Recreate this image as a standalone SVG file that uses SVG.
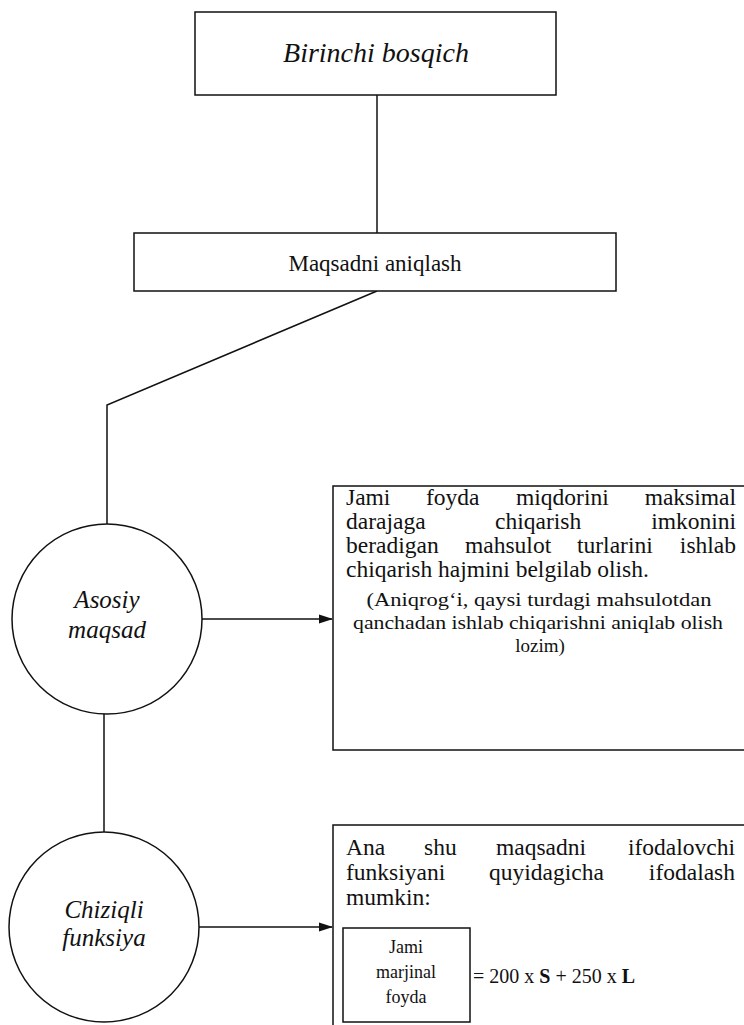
<svg xmlns="http://www.w3.org/2000/svg" width="744" height="1025" viewBox="0 0 744 1025" font-family="'Liberation Serif', 'DejaVu Serif', serif">
<style>
.box{fill:#fff;stroke:#111;stroke-width:1.5}
.ln{fill:none;stroke:#111;stroke-width:1.5}
text{font-family:'Liberation Serif','DejaVu Serif',serif;fill:#111}
.it{font-style:italic}
.mid{text-anchor:middle}
.end{text-anchor:end}
</style>
<defs>
<marker id="ah" markerWidth="14" markerHeight="11" refX="13" refY="5.5" orient="auto" markerUnits="userSpaceOnUse">
<path d="M0,1 L14,5.5 L0,10 Z" fill="#111"/>
</marker>
</defs>
<rect width="744" height="1025" fill="#fff"/>
<g id="connectors">
<line class="ln" x1="377" y1="95" x2="377" y2="233"/>
<polyline class="ln" points="377,291 107,405 107,524"/>
<line class="ln" x1="104" y1="712" x2="104" y2="833"/>
<line class="ln" x1="202" y1="619" x2="332" y2="619" marker-end="url(#ah)"/>
<line class="ln" x1="199" y1="927" x2="332" y2="927" marker-end="url(#ah)"/>
</g>
<g id="birinchi">
<rect class="box" x="195" y="12" width="361" height="83"/>
<text class="it mid" x="376" y="62" font-size="28">Birinchi bosqich</text>
</g>
<g id="maqsadni">
<rect class="box" x="134" y="233" width="482" height="58"/>
<text class="mid" x="375" y="271" font-size="23">Maqsadni aniqlash</text>
</g>
<g id="asosiy">
<circle class="box" cx="107" cy="619" r="95"/>
<text class="it mid" x="107" y="608" font-size="25">Asosiy</text>
<text class="it mid" x="107" y="638" font-size="25">maqsad</text>
</g>
<g id="chiziqli">
<circle class="box" cx="104" cy="927" r="95"/>
<text class="it mid" x="104" y="918" font-size="25">Chiziqli</text>
<text class="it mid" x="104" y="946" font-size="25">funksiya</text>
</g>
<g id="jami-box">
<rect class="box" x="333" y="486" width="420" height="264"/>
<g font-size="23.5">
<text x="346" y="505">Jami</text>
<text x="426" y="505">foyda</text>
<text x="516" y="505">miqdorini</text>
<text class="end" x="736" y="505">maksimal</text>
<text x="346" y="529">darajaga</text>
<text x="495" y="529">chiqarish</text>
<text class="end" x="736" y="529">imkonini</text>
<text x="346" y="553">beradigan</text>
<text x="465" y="553">mahsulot</text>
<text x="577" y="553">turlarini</text>
<text class="end" x="736" y="553">ishlab</text>
<text x="346" y="577">chiqarish hajmini belgilab olish.</text>
</g>
<g class="mid" font-size="19">
<text x="539" y="606" textLength="345" lengthAdjust="spacingAndGlyphs">(Aniqrog‘i, qaysi  turdagi mahsulotdan</text>
<text x="538" y="629" textLength="370" lengthAdjust="spacingAndGlyphs">qanchadan ishlab chiqarishni aniqlab olish</text>
<text x="540" y="652">lozim)</text>
</g>
</g>
<g id="ana-box">
<rect class="box" x="333" y="825" width="420" height="215"/>
<g font-size="23.5">
<text x="346" y="855">Ana</text>
<text x="424" y="855">shu</text>
<text x="496" y="855">maqsadni</text>
<text class="end" x="735" y="855">ifodalovchi</text>
<text x="346" y="880">funksiyani</text>
<text x="489" y="880">quyidagicha</text>
<text class="end" x="735" y="880">ifodalash</text>
<text x="346" y="905">mumkin:</text>
</g>
</g>
<g id="jami-marjinal">
<rect class="box" x="343" y="928" width="127" height="94"/>
<g class="mid" font-size="18">
<text x="406" y="953">Jami</text>
<text x="406" y="978">marjinal</text>
<text x="406" y="1003">foyda</text>
</g>
</g>
<g id="formula">
<text x="473" y="983" font-size="20">= 200 x <tspan font-weight="bold">S</tspan> + 250 x <tspan font-weight="bold">L</tspan></text>
</g>
</svg>
